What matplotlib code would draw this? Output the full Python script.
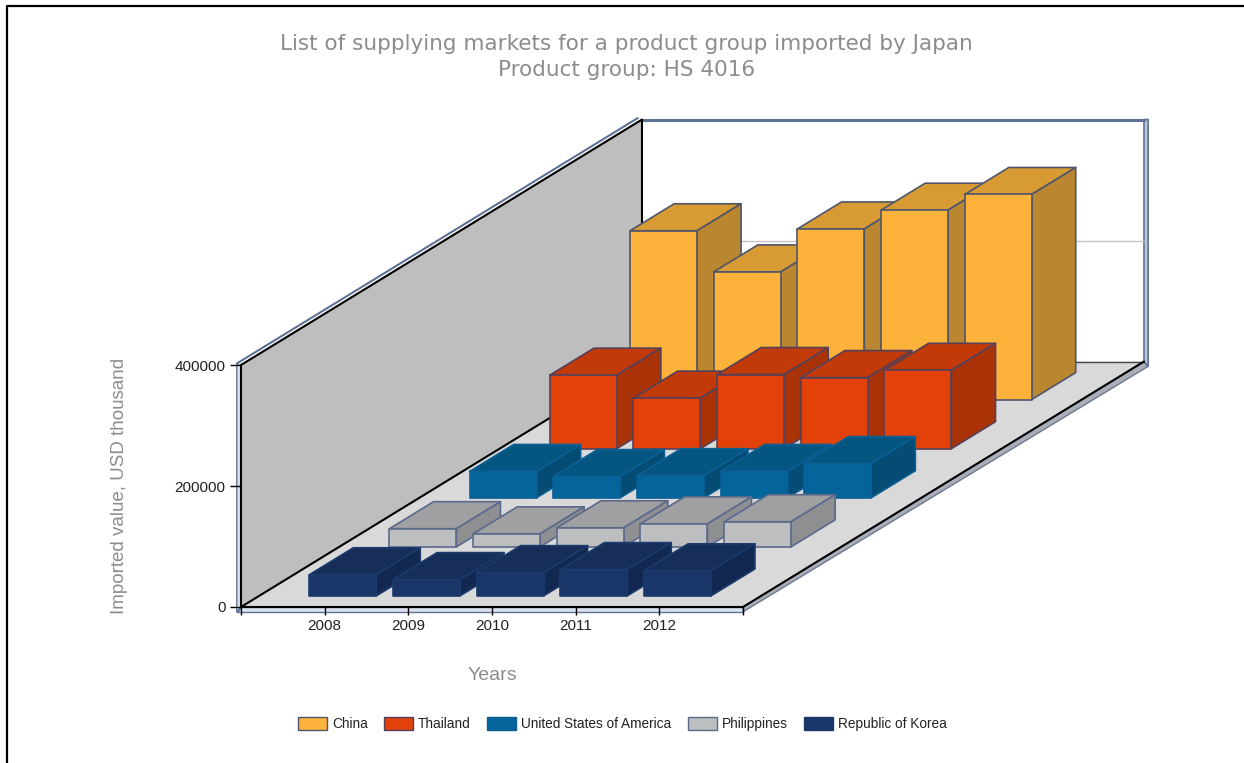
import matplotlib
matplotlib.use('Agg')
import matplotlib.pyplot as plt
from matplotlib.patches import Patch, Polygon
from matplotlib.lines import Line2D

years = [2008, 2009, 2010, 2011, 2012]
# back row first, drawing order matters
countries = ['China', 'Thailand', 'United States of America', 'Philippines', 'Republic of Korea']
china = [279000, 211000, 282000, 313000, 339000]
thailand = [121500, 83500, 122500, 117500, 129500]
usa = [43500, 35000, 36500, 43500, 56500]
philippines = [30000, 21500, 31500, 38000, 41500]
korea = [35000, 27000, 38500, 43500, 41500]
series = [china, thailand, usa, philippines, korea]

# front, top, side
shades = [('#FDB23C', '#D89A33', '#BA8630'),
          ('#E2420A', '#C23A08', '#A93306'),
          ('#04659B', '#045680', '#044C74'),
          ('#BDBEC0', '#A0A0A2', '#8E8F91'),
          ('#1A3668', '#162E58', '#132850')]
edges = ['#4F566B', '#55405A', '#0B5F95', '#5A6A8C', '#1C3A6C']

W, H = 1244, 763
YMAX = 400000
NCAT = 6

# one depth row in axis units (oblique projection)
DX = 0.9585
DY = 81150
BAR_W = 0.80
BAR_D = 0.55
BAR_GAP = 0.225


def proj(x, v, d):
    return (x + d * DX, v + d * DY)


def quad(ax, pts, face, edge='none', lw=0.0, z=1):
    ax.add_patch(Polygon([proj(*p) for p in pts], closed=True, facecolor=face, edgecolor=edge,
                         linewidth=lw, clip_on=False, zorder=z, joinstyle='round'))


def line(ax, a, b, color, lw, z=1.5):
    p, q = proj(*a), proj(*b)
    ax.plot([p[0], q[0]], [p[1], q[1]], color=color, lw=lw, clip_on=False, zorder=z,
            solid_capstyle='round')


def bar3d(ax, x, d, val, cols, edge):
    x0, x1 = x - BAR_W / 2, x + BAR_W / 2
    d0, d1 = d + BAR_GAP, d + BAR_GAP + BAR_D
    quad(ax, [(x0, val, d0), (x1, val, d0), (x1, val, d1), (x0, val, d1)], cols[1], edge, 1.2, 2)
    quad(ax, [(x1, 0, d0), (x1, val, d0), (x1, val, d1), (x1, 0, d1)], cols[2], edge, 1.2, 2)
    quad(ax, [(x0, 0, d0), (x1, 0, d0), (x1, val, d0), (x0, val, d0)], cols[0], edge, 1.2, 2)


plt.rcParams['font.family'] = ['Liberation Sans', 'DejaVu Sans']
fig = plt.figure(figsize=(W / 100, H / 100), dpi=100)
ax = fig.add_axes([241 / W, 1 - 607 / H, 502 / W, 242 / H])
ax.set_xlim(0, NCAT)
ax.set_ylim(0, YMAX)

n = len(series)
strip = '#B9C6D8'
slate = '#5F7296'

# walls
quad(ax, [(0, 0, n), (NCAT, 0, n), (NCAT, YMAX, n), (0, YMAX, n)], 'white')
line(ax, (0, 200000, n), (NCAT, 200000, n), '#C4C4C4', 1.0)
quad(ax, [(0, 0, 0), (NCAT, 0, 0), (NCAT, 0, n), (0, 0, n)], '#D9D9D9')
quad(ax, [(0, 0, 0), (0, YMAX, 0), (0, YMAX, n), (0, 0, n)], '#BEBEBE')

# raised edges of the box
sx, sy = 0.05, 8000
quad(ax, [(-sx, -sy, 0), (0, 0, 0), (0, YMAX, 0), (-sx, YMAX, 0)], '#DCE3EE', slate, 1.0, 1.2)
quad(ax, [(-sx, -sy, 0), (NCAT, -sy, 0), (NCAT, 0, 0), (0, 0, 0)], '#DCE3EE', slate, 1.0, 1.2)
quad(ax, [(NCAT, -sy, 0), (NCAT + sx, -sy, n), (NCAT, 0, n), (NCAT, 0, 0)], '#A9AEB8', '#6F7A90', 1.0, 1.2)
quad(ax, [(NCAT, 0, n), (NCAT + sx, -sy, n), (NCAT + sx, YMAX, n), (NCAT, YMAX, n)], strip, slate, 1.2, 1.2)
line(ax, (0, YMAX, n), (NCAT, YMAX, n), slate, 2.2)
line(ax, (-sx, YMAX + 2500, 0), (-sx, YMAX + 2500, n), slate, 1.5)

line(ax, (0, 0, n), (NCAT, 0, n), '#444444', 1.0)
line(ax, (0, 0, 0), (0, 0, n), 'black', 1.5)
line(ax, (0, YMAX, 0), (0, YMAX, n), 'black', 1.5)
line(ax, (0, 0, n), (0, YMAX, n), 'black', 1.5)
line(ax, (NCAT, 0, 0), (NCAT, 0, n), 'black', 1.5)

for i, vals in enumerate(series):
    d = n - 1 - i
    for j, v in enumerate(vals):
        bar3d(ax, j + 1, d, v, shades[i], edges[i])

ax.patch.set_visible(False)
for s in ['top', 'right']:
    ax.spines[s].set_visible(False)
for s in ['left', 'bottom']:
    ax.spines[s].set_linewidth(1.5)
    ax.spines[s].set_zorder(1.6)

ax.set_xticks(range(NCAT + 1))
ax.set_xticklabels([''] + [str(y) for y in years] + [''])
ax.set_yticks([0, 200000, 400000])
ax.set_yticklabels(['0', '200000', '400000'])
ax.tick_params(axis='x', length=6, width=1, labelsize=11, pad=3, labelcolor='#222222')
ax.tick_params(axis='y', length=8, width=1, labelsize=11, pad=3, labelcolor='#222222')
ax.set_xlabel('Years', fontsize=14, color='#8C8C8C', labelpad=24)
ax.set_ylabel('Imported value, USD thousand', fontsize=13.5, color='#8C8C8C', labelpad=34)

fig.text(626.5 / W, 1 - 34 / H, 'List of supplying markets for a product group imported by Japan\nProduct group: HS 4016',
         ha='center', va='top', fontsize=15.5, color='#8C8C8C', family='DejaVu Sans', linespacing=1.35)

handles = [Patch(facecolor=shades[i][0], edgecolor=edges[i], linewidth=1.0) for i in range(n)]
fig.legend(handles, countries, loc='center', bbox_to_anchor=(622.5 / W, 1 - 724 / H), ncol=n, frameon=False,
           fontsize=9.8, handlelength=2.13, handleheight=1.03, handletextpad=0.37, columnspacing=1.2,
           labelcolor='#222222')

# frame of the screenshot, only top and left
fig.add_artist(Line2D([7.5 / W, 7.5 / W, 1], [0, 1 - 6 / H, 1 - 6 / H],
                      color='black', lw=1.6, transform=fig.transFigure))

fig.savefig('out.png', dpi=100)
